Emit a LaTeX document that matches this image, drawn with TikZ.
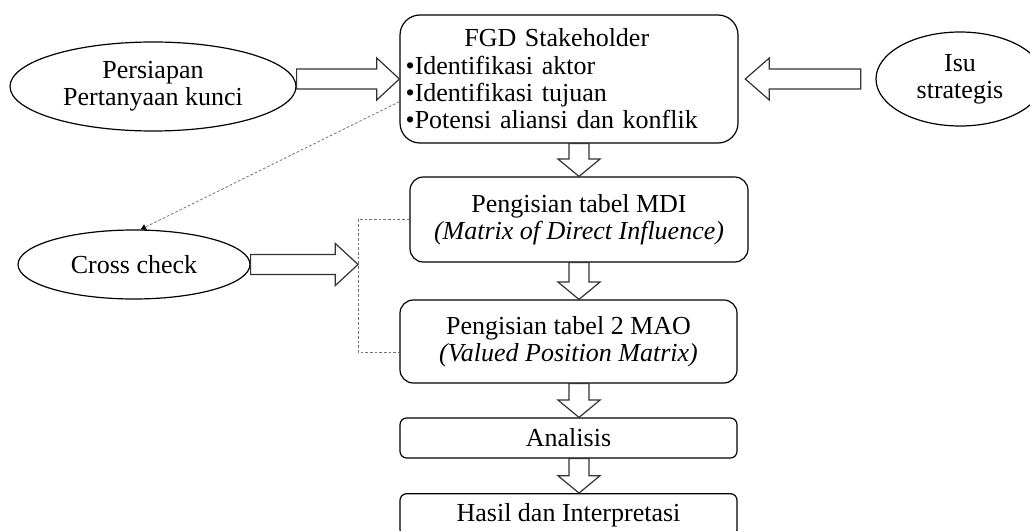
\documentclass[tikz,border=0pt]{standalone}
\usepackage{fontspec}
\setmainfont{Liberation Serif}
\usetikzlibrary{shapes.geometric,calc,arrows.meta}

% hollow block arrow from #1 to #2, head length #3
\newcommand{\fatarrow}[3]{%
  \path ($#2!#3!#1$) coordinate (fa-h);
  \draw[fat] ($#1!7.5pt!90:#2$) -- ($(fa-h)!7.5pt!-90:#1$) -- ($(fa-h)!15.75pt!-90:#1$)
    -- #2 -- ($(fa-h)!15.75pt!90:#1$) -- ($(fa-h)!7.5pt!90:#1$) -- ($#1!7.5pt!-90:#2$) -- cycle;}

\begin{document}
\begin{tikzpicture}[x=0.75pt,y=-0.75pt,
    font=\fontsize{19.5}{20.5}\selectfont,
    box/.style={draw,line width=0.9pt,align=center,inner sep=0pt},
    oval/.style={draw,ellipse,line width=0.9pt,align=center,inner sep=0pt},
    fat/.style={draw=black!80,line width=0.9pt,fill=white,line join=miter},
    link/.style={draw=black!55,line width=0.6pt,dash pattern=on 2pt off 1.5pt}]
    \useasboundingbox (0,0) rectangle (1030,531);
    \clip (0,0) rectangle (1030,531);
    \node[oval,minimum width=214.5pt,minimum height=66.75pt] (persiapan) at (153,86.5) {Persiapan\\Pertanyaan kunci};
    \node[box,rounded corners=15pt,minimum width=253.5pt,minimum height=96pt,text width=245pt,align=left] (fgd) at (569,79)
        {\hspace*{44pt}FGD Stakeholder\\•Identifikasi aktor\\•Identifikasi tujuan\\•Potensi aliansi dan konflik};
    \node[oval,minimum width=126pt,minimum height=70.5pt] (isu) at (960,79) {Isu\\strategis};
    \node[box,rounded corners=10pt,minimum width=253.5pt,minimum height=63.75pt] (mdi) at (579,219.5)
        {Pengisian tabel MDI\\\textit{(Matrix of Direct Influence)}};
    \node[oval,minimum width=174pt,minimum height=51.75pt] (cross) at (134,264.5) {Cross check};
    \node[box,rounded corners=10pt,minimum width=252.75pt,minimum height=62.25pt] (mao) at (568.5,341.5)
        {Pengisian tabel 2 MAO\\\textit{(Valued Position Matrix)}};
    \node[box,rounded corners=5pt,minimum width=252.75pt,minimum height=30pt] (analisis) at (568.5,438) {Analisis};
    \node[box,rounded corners=5pt,minimum width=252.75pt,minimum height=32pt] (hasil) at (568.5,515) {Hasil dan Interpretasi};
    \coordinate (axis) at (579,0);
    \coordinate (brk) at (358,264.5);
    % dashed links
    \draw[link] (mdi.west) -| (brk) |- ([yshift=-8pt]mao.west);
    \draw[link,-{Triangle[length=4pt,width=4.5pt,color=black]}] ([yshift=-17pt]fgd.west) -- ([xshift=5pt]cross.north);
    % block arrows
    \fatarrow{(persiapan.east |- fgd.west)}{(fgd.west)}{17pt}
    \fatarrow{([xshift=-11pt]isu.west)}{([xshift=5pt]fgd.east)}{18pt}
    \fatarrow{(cross.east)}{(brk)}{17pt}
    \fatarrow{(fgd.south -| axis)}{(mdi.north -| axis)}{13pt}
    \fatarrow{(mdi.south -| axis)}{(mao.north -| axis)}{13pt}
    \fatarrow{(mao.south -| axis)}{(analisis.north -| axis)}{13pt}
    \fatarrow{(analisis.south -| axis)}{(hasil.north -| axis)}{13pt}
\end{tikzpicture}
\end{document}
